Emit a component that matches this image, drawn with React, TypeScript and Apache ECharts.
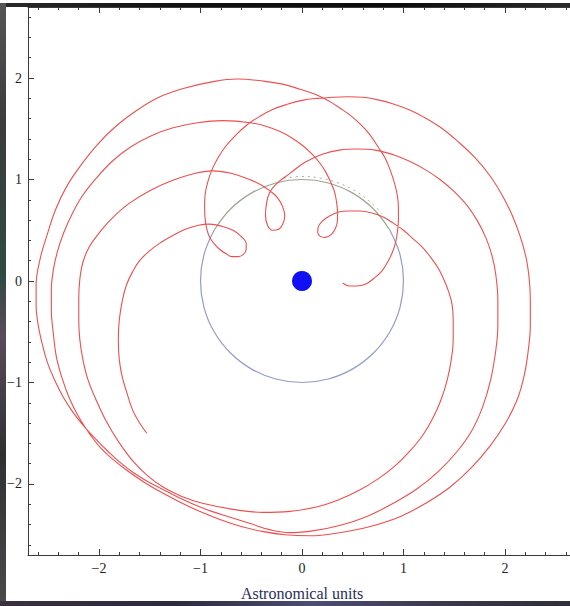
import React, { useEffect, useRef } from "react";
import * as echarts from "echarts";

// ---- axis ticks (AU) ----
const axisMin = -2.7;
const axisMax = 2.7;
const majorTicks = [-2, -1, 0, 1, 2];
const minorTicks = [-2.6, -2.4, -2.2, -1.8, -1.6, -1.4, -1.2, -0.8, -0.6, -0.4, -0.2, 0.2, 0.4, 0.6, 0.8, 1.2, 1.4, 1.6, 1.8, 2.2, 2.4, 2.6];
const axisTitle = "Astronomical units";

// ---- trajectory segments, [x, y] in AU, in path order ----
const startToLoopA = [
  [-1.53, -1.5], [-1.6, -1.4], [-1.67, -1.27], [-1.72, -1.12], [-1.77, -0.95], [-1.8, -0.78], [-1.81, -0.58],
  [-1.8, -0.38], [-1.77, -0.19], [-1.73, -0.04], [-1.67, 0.09], [-1.6, 0.2], [-1.5, 0.3], [-1.39, 0.38],
  [-1.27, 0.45], [-1.15, 0.51], [-1.02, 0.55], [-0.91, 0.56], [-0.79, 0.54], [-0.68, 0.5], [-0.6, 0.44],
  [-0.55, 0.37], [-0.55, 0.31], [-0.58, 0.26], [-0.63, 0.24], [-0.69, 0.24], [-0.75, 0.27], [-0.81, 0.31],
  [-0.86, 0.36], [-0.91, 0.43], [-0.94, 0.52], [-0.955, 0.62], [-0.96, 0.73],
];
const loopAToOuterRight = [
  [-0.955, 0.85], [-0.93, 0.97], [-0.89, 1.09], [-0.83, 1.21], [-0.75, 1.33], [-0.65, 1.44], [-0.54, 1.54],
  [-0.42, 1.62], [-0.29, 1.69], [-0.15, 1.74], [0.0, 1.78], [0.15, 1.8], [0.3, 1.81], [0.45, 1.815],
  [0.6, 1.81], [0.75, 1.785], [0.9, 1.745], [1.05, 1.69], [1.2, 1.615], [1.37, 1.51], [1.53, 1.38],
  [1.7, 1.22], [1.85, 1.04], [1.97, 0.85], [2.07, 0.65], [2.15, 0.44], [2.21, 0.22], [2.24, 0.01], [2.25, -0.19],
];
const outerRightToBottom = [
  [2.25, -0.43], [2.23, -0.68], [2.19, -0.93], [2.12, -1.17], [2.0, -1.41], [1.85, -1.63], [1.67, -1.84],
  [1.46, -2.03], [1.22, -2.19], [0.97, -2.32], [0.67, -2.42], [0.37, -2.48], [0.08, -2.51], [-0.17, -2.5],
  [-0.38, -2.47], [-0.6, -2.42], [-0.81, -2.35], [-1.01, -2.27], [-1.2, -2.18], [-1.39, -2.08], [-1.56, -1.98],
  [-1.72, -1.87], [-1.86, -1.76], [-1.98, -1.65],
];
const secondLeftToLoopC = [
  [-2.09, -1.51], [-2.2, -1.34], [-2.29, -1.16], [-2.36, -0.97], [-2.42, -0.75], [-2.45, -0.52], [-2.47, -0.29],
  [-2.47, -0.09], [-2.45, 0.11], [-2.41, 0.29], [-2.35, 0.47], [-2.27, 0.65], [-2.17, 0.83], [-2.03, 1.01],
  [-1.87, 1.18], [-1.69, 1.32], [-1.49, 1.43], [-1.27, 1.51], [-1.03, 1.56], [-0.78, 1.58], [-0.51, 1.56],
  [-0.34, 1.52], [-0.21, 1.47], [-0.1, 1.41], [0.0, 1.34], [0.09, 1.26], [0.17, 1.17], [0.23, 1.08],
  [0.28, 0.98], [0.32, 0.88], [0.34, 0.78], [0.35, 0.68], [0.35, 0.6], [0.33, 0.52], [0.29, 0.46],
  [0.23, 0.43], [0.18, 0.44], [0.155, 0.48], [0.16, 0.53], [0.2, 0.59], [0.27, 0.64], [0.36, 0.68],
  [0.46, 0.69], [0.57, 0.69], [0.69, 0.67], [0.8, 0.63], [0.9, 0.57], [1.0, 0.5], [1.09, 0.42],
  [1.19, 0.33], [1.27, 0.23], [1.34, 0.13], [1.4, 0.01], [1.45, -0.12], [1.48, -0.24], [1.49, -0.38],
];
const innerRightToLoopB = [
  [1.49, -0.58], [1.47, -0.78], [1.43, -0.98], [1.37, -1.17], [1.29, -1.35], [1.19, -1.52], [1.06, -1.68],
  [0.92, -1.82], [0.75, -1.95], [0.55, -2.07], [0.35, -2.16], [0.13, -2.23], [-0.12, -2.27], [-0.39, -2.28],
  [-0.68, -2.25], [-0.98, -2.19], [-1.19, -2.12], [-1.37, -2.03], [-1.52, -1.92], [-1.67, -1.77], [-1.81, -1.58],
  [-1.93, -1.38], [-2.03, -1.17], [-2.11, -0.97], [-2.16, -0.77], [-2.19, -0.57], [-2.2, -0.38], [-2.2, -0.19],
  [-2.19, 0.01], [-2.16, 0.18], [-2.1, 0.33], [-2.01, 0.46], [-1.88, 0.61], [-1.71, 0.76], [-1.5, 0.89],
  [-1.28, 0.99], [-1.06, 1.06], [-0.88, 1.085], [-0.69, 1.06], [-0.53, 1.005], [-0.41, 0.95], [-0.32, 0.89],
  [-0.24, 0.82], [-0.19, 0.73], [-0.17, 0.64], [-0.19, 0.56], [-0.23, 0.51], [-0.29, 0.5], [-0.34, 0.55],
  [-0.36, 0.65], [-0.35, 0.76], [-0.32, 0.87], [-0.25, 0.96],
];
const loopBToMiddleRight = [
  [-0.12, 1.06], [0.03, 1.17], [0.2, 1.25], [0.37, 1.29], [0.54, 1.3], [0.72, 1.29], [0.9, 1.245], [1.06, 1.18],
  [1.21, 1.1], [1.36, 1.0], [1.5, 0.88], [1.63, 0.74], [1.73, 0.59], [1.81, 0.43], [1.87, 0.26], [1.91, 0.06],
  [1.93, -0.19], [1.93, -0.43], [1.91, -0.68], [1.86, -0.97], [1.78, -1.24], [1.67, -1.48], [1.52, -1.69],
  [1.34, -1.88], [1.13, -2.05], [0.9, -2.19], [0.64, -2.32], [0.37, -2.41], [0.12, -2.46], [-0.12, -2.48],
  [-0.32, -2.45], [-0.51, -2.39], [-0.7, -2.33], [-0.89, -2.27], [-1.07, -2.2], [-1.24, -2.12], [-1.4, -2.04],
  [-1.53, -1.97], [-1.66, -1.89], [-1.79, -1.79], [-1.91, -1.68], [-2.03, -1.56],
];
const outerLeftToEnd = [
  [-2.15, -1.43], [-2.26, -1.29], [-2.36, -1.13], [-2.44, -0.97], [-2.51, -0.8], [-2.56, -0.62], [-2.6, -0.43],
  [-2.62, -0.24], [-2.62, -0.04], [-2.58, 0.22], [-2.51, 0.46], [-2.43, 0.7], [-2.32, 0.93], [-2.18, 1.14],
  [-2.02, 1.34], [-1.84, 1.52], [-1.63, 1.68], [-1.41, 1.81], [-1.16, 1.9], [-0.9, 1.96], [-0.64, 1.99],
  [-0.38, 1.97], [-0.19, 1.94], [-0.02, 1.89], [0.13, 1.84], [0.27, 1.77], [0.38, 1.7], [0.48, 1.63],
  [0.58, 1.54], [0.67, 1.44], [0.75, 1.32], [0.82, 1.21], [0.87, 1.09], [0.91, 0.97], [0.94, 0.84],
  [0.95, 0.72], [0.95, 0.6], [0.94, 0.48], [0.92, 0.37], [0.89, 0.28], [0.84, 0.18], [0.78, 0.09],
  [0.7, 0.02], [0.63, -0.03], [0.54, -0.05], [0.47, -0.05], [0.4, -0.02],
];

// ---- Earth orbit (1 AU) and Sun ----
const earthOrbitUpper = [
  [0.866, 0.5], [0.707, 0.707], [0.5, 0.866], [0.259, 0.966], [0, 1], [-0.259, 0.966], [-0.5, 0.866],
  [-0.707, 0.707], [-0.866, 0.5],
];
const earthOrbitLower = [
  [-0.866, 0.5], [-0.966, 0.259], [-1, 0], [-0.966, -0.259], [-0.866, -0.5], [-0.707, -0.707], [-0.5, -0.866],
  [-0.259, -0.966], [0, -1], [0.259, -0.966], [0.5, -0.866], [0.707, -0.707], [0.866, -0.5], [0.966, -0.259],
  [1, 0], [0.966, 0.259], [0.866, 0.5],
];
const earthOrbitDotted = [
  [-0.179, 1.014], [0, 1.03], [0.179, 1.014], [0.352, 0.968], [0.515, 0.892], [0.662, 0.789], [0.789, 0.662],
];
const sunPosition = [[0, 0]];

const serif = "'Liberation Serif', 'DejaVu Serif', 'Times New Roman', serif";
const fmt = (v: number) => (v < 0 ? "\u2212" + Math.abs(v) : String(v));
const axisColor = "#3a3a3a";

function tickAxis(position: string, values: number[], len: number, extra: any = {}) {
  return {
    type: "value",
    min: axisMin,
    max: axisMax,
    position,
    axisLine: { show: false, onZero: false },
    axisTick: { show: true, inside: true, length: len, customValues: values, lineStyle: { color: axisColor, width: 1 } },
    axisLabel: { show: false },
    splitLine: { show: false },
    ...extra,
  };
}

export default function App() {
  const ref = useRef<HTMLDivElement>(null);
  useEffect(() => {
    if (!ref.current) return;
    const chart = echarts.init(ref.current, undefined, { renderer: "svg" });
    const trajectory = [
      ...startToLoopA,
      ...loopAToOuterRight,
      ...outerRightToBottom,
      ...secondLeftToLoopC,
      ...innerRightToLoopB,
      ...loopBToMiddleRight,
      ...outerLeftToEnd,
    ];
    const majorLabelled = (position: string, nameOpts: any) => ({
      type: "value",
      min: axisMin,
      max: axisMax,
      position,
      axisLine: { show: true, onZero: false, lineStyle: { color: axisColor, width: 1 } },
      axisTick: { show: true, inside: true, length: 6, customValues: majorTicks, lineStyle: { color: axisColor, width: 1 } },
      axisLabel: {
        show: true,
        customValues: majorTicks,
        formatter: fmt,
        fontFamily: serif,
        fontSize: 14,
        color: "#1e1e1e",
        margin: 6,
      },
      splitLine: { show: false },
      ...nameOpts,
    });
    const line = (data: number[][], color: string, width: number, z: number, extra: any = {}) => ({
      type: "line",
      data,
      xAxisIndex: 0,
      yAxisIndex: 0,
      showSymbol: false,
      symbol: "none",
      smooth: 0.4,
      lineStyle: { color, width, ...(extra.lineStyle || {}) },
      z,
    });
    chart.setOption({
      animation: false,
      backgroundColor: "transparent",
      grid: { left: 28, top: 7, width: 548, height: 548, containLabel: false, outerBoundsMode: "none" },
      xAxis: [
        majorLabelled("bottom", {
          name: axisTitle,
          nameLocation: "middle",
          nameGap: 30,
          nameTextStyle: { fontFamily: serif, fontSize: 16, color: "#2b2f5a" },
        }),
        tickAxis("bottom", minorTicks, 3),
        tickAxis("top", majorTicks, 6, { axisLine: { show: true, onZero: false, lineStyle: { color: axisColor } } }),
        tickAxis("top", minorTicks, 3),
      ],
      yAxis: [
        majorLabelled("left", {}),
        tickAxis("left", minorTicks, 3),
      ],
      series: [
        line(earthOrbitLower, "#939bcd", 1.2, 2),
        line(earthOrbitUpper, "#9ba694", 1.2, 2),
        line(earthOrbitDotted, "#c2a096", 1, 2, { lineStyle: { type: [2, 4] } }),
        line(trajectory, "#ee4f4f", 1.1, 3),
        {
          type: "scatter",
          data: sunPosition,
          xAxisIndex: 0,
          yAxisIndex: 0,
          symbol: "circle",
          symbolSize: 20,
          itemStyle: { color: "#1010f2", opacity: 1 },
          z: 4,
        },
      ],
    });
    return () => chart.dispose();
  }, []);

  return (
    <div style={{ position: "absolute", left: 0, top: 0, width: 570, height: 606, background: "#ffffff", overflow: "hidden" }}>
      <div ref={ref} style={{ position: "absolute", left: 0, top: 0, width: 570, height: 606 }} />
      <div style={{ position: "absolute", left: 0, top: 3, width: 570, height: 4, background: "linear-gradient(to right, #2a2a2a, #111 30%, #0c0c0c 70%, #2a2a2a)" }} />
      <div style={{ position: "absolute", left: 0, top: 3, width: 6, height: 603, background: "linear-gradient(to bottom, #555, #3c3c3c 20%, #2f4a44 45%, #5b4a58 55%, #2e3133 75%, #4a4a4a)" }} />
      <div style={{ position: "absolute", left: 0, top: 601, width: 570, height: 5, background: "linear-gradient(to right, #3a3040, #2c2a3c 30%, #4b4d72 55%, #3a3648 80%, #2f2f3a)" }} />
    </div>
  );
}
